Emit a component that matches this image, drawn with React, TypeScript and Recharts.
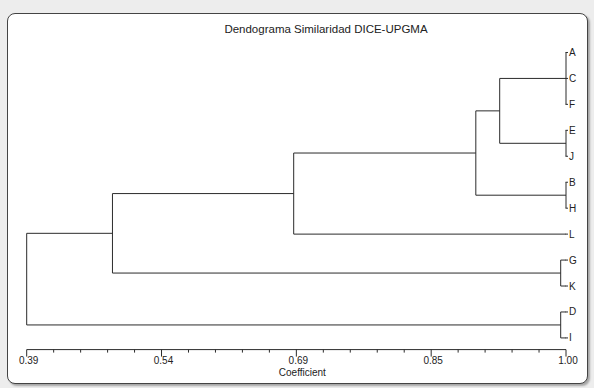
import React from 'react';
import { ComposedChart, XAxis, YAxis, ReferenceLine } from 'recharts';

// leaves from top to bottom
const leaves = ['A', 'C', 'F', 'E', 'J', 'B', 'H', 'L', 'G', 'K', 'D', 'I'];

// each join groups leaves or earlier joins (c0, c1, ...) at a coefficient
const joinMembers = [
  ['A', 'C', 'F'],
  ['E', 'J'],
  ['B', 'H'],
  ['G', 'K'],
  ['D', 'I'],
  ['c0', 'c1'],
  ['c5', 'c2'],
  ['c6', 'L'],
  ['c7', 'c3'],
  ['c8', 'c4'],
];
const joinLevels = [1.0, 1.0, 1.0, 0.994, 0.994, 0.925, 0.898, 0.692, 0.487, 0.39];

const majorTicks = [0.39, 0.5425, 0.695, 0.8475, 1.0];
const majorLabels = ['0.39', '0.54', '0.69', '0.85', '1.00'];
const minorPerMajor = 5;

const FONT = 'Arial, "Liberation Sans", sans-serif';
const INK = '#2b2b2b';

const allTicks: number[] = [];
majorTicks.forEach((t, i) => {
  allTicks.push(t);
  const next = majorTicks[i + 1];
  if (next === undefined) return;
  for (let k = 1; k < minorPerMajor; k++) {
    allTicks.push(t + ((next - t) * k) / minorPerMajor);
  }
});

type Pt = { x: number; y: number };
const segments: [Pt, Pt][] = [];
const nodes: Record<string, Pt> = {};
leaves.forEach((name, i) => {
  nodes[name] = { x: 1.0, y: i };
});
joinMembers.forEach((members, k) => {
  const level = joinLevels[k];
  const kids = members.map((m) => nodes[m]);
  kids.forEach((p) => {
    if (p.x > level) segments.push([{ x: level, y: p.y }, { x: p.x, y: p.y }]);
  });
  const ys = kids.map((p) => p.y);
  segments.push([{ x: level, y: Math.min(...ys) }, { x: level, y: Math.max(...ys) }]);
  nodes['c' + k] = { x: level, y: ys.reduce((a, b) => a + b, 0) / ys.length };
});

function XTick(props: any) {
  const { x, y, payload } = props;
  const idx = majorTicks.findIndex((t) => Math.abs(t - payload.value) < 1e-6);
  const major = idx >= 0;
  return (
    <g>
      <line x1={x} x2={x} y1={y} y2={y + (major ? 7 : 3)} stroke={INK} strokeWidth={1} />
      {major && (
        <text x={x + 2} y={y + 14.5} textAnchor="middle" fontSize={10} fontFamily={FONT} style={{ fill: '#222' }}>
          {majorLabels[idx]}
        </text>
      )}
    </g>
  );
}

function LeafTick(props: any) {
  const { x, y, payload } = props;
  return (
    <g>
      <line x1={x - 0.5} x2={x + 2} y1={y} y2={y} stroke={INK} strokeWidth={1} />
      <text x={x + 3} y={y + 3.5} textAnchor="start" fontSize={10} fontFamily={FONT} style={{ fill: '#222' }}>
        {leaves[payload.value]}
      </text>
    </g>
  );
}

export default function App() {
  return (
    <div style={{ position: 'absolute', left: 0, top: 0, width: 594, height: 388, background: '#ededed', overflow: 'hidden' }}>
      <div
        style={{
          position: 'absolute',
          left: 7,
          top: 13,
          width: 579,
          height: 369,
          background: '#fff',
          border: '1px solid #444',
          borderRadius: 8,
          boxShadow: '2px 2px 2px rgba(0,0,0,0.3)',
        }}
      />
      <div
        style={{
          position: 'absolute',
          left: 176,
          top: 21,
          width: 300,
          textAlign: 'center',
          fontFamily: FONT,
          fontSize: 11.5,
          lineHeight: '16px',
          color: '#222',
        }}
      >
        Dendograma Similaridad DICE-UPGMA
      </div>
      <div style={{ position: 'absolute', left: 0, top: 0 }}>
        <ComposedChart width={594} height={388} data={[]} margin={{ top: 39.5, right: 0, bottom: 8.4, left: 26.7 }}>
          <XAxis
            type="number"
            dataKey="x"
            domain={[0.39, 1.0]}
            ticks={allTicks}
            interval={0}
            allowDataOverflow
            height={30}
            tickSize={0}
            tickMargin={0}
            tickLine={false}
            axisLine={{ stroke: INK }}
            tick={<XTick />}
            label={{ value: 'Coefficient', position: 'insideBottom', offset: 3.5, dx: 6, fontSize: 10, fontFamily: FONT, fill: '#222' }}
          />
          <YAxis
            type="number"
            orientation="right"
            domain={[-0.5, 11.45]}
            ticks={leaves.map((_, i) => i)}
            interval={0}
            reversed
            allowDataOverflow
            width={28}
            tickSize={0}
            tickMargin={0}
            tickLine={false}
            axisLine={false}
            tick={<LeafTick />}
          />
          {segments.map((s, i) => (
            <ReferenceLine key={i} segment={s} stroke={INK} strokeWidth={1} ifOverflow="visible" />
          ))}
        </ComposedChart>
      </div>
    </div>
  );
}
